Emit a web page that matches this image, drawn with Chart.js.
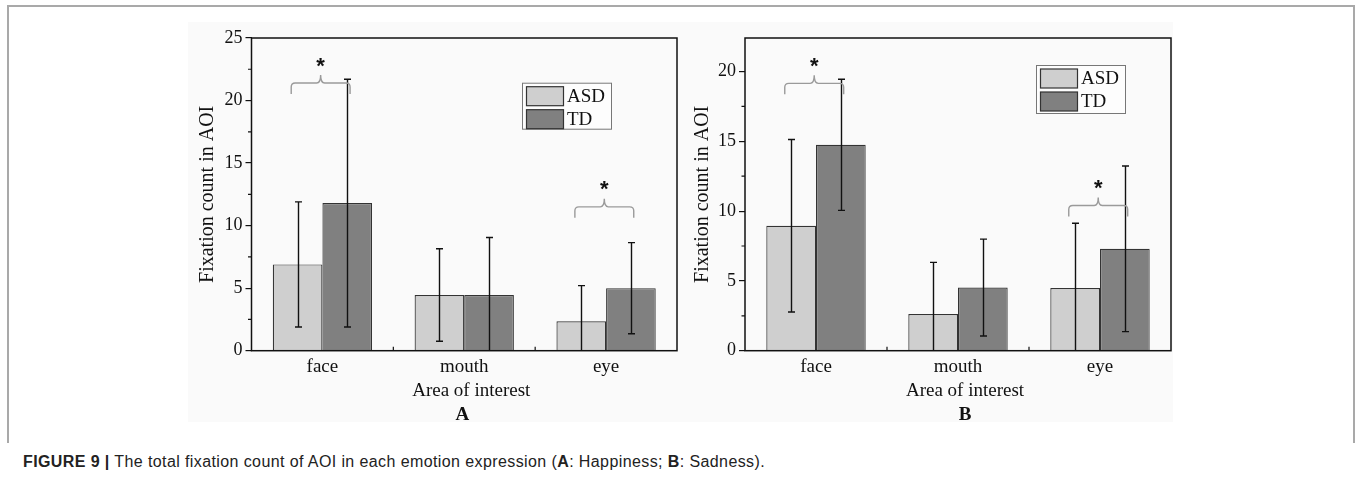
<!DOCTYPE html>
<html>
<head>
<meta charset="utf-8">
<script src="https://cdn.jsdelivr.net/npm/chart.js@4/dist/chart.umd.min.js"></script>
<style>
  html, body { margin:0; padding:0; background:#ffffff; }
  body { width:1355px; height:482px; position:relative; overflow:hidden; }
  #frame { position:absolute; left:7px; top:5px; width:1344px; height:436px;
           border-top:2px solid #a9a9a9; border-left:2px solid #a9a9a9; border-right:2px solid #a9a9a9; }
  #bg { position:absolute; left:188px; top:22px; width:985px; height:400px; background:#fafafa; }
  canvas { position:absolute; }
  #cA { left:190px; top:20px; }
  #cB { left:685px; top:20px; }
  #caption { position:absolute; left:23px; top:453px; font-family:"Liberation Sans", Arial, sans-serif;
             font-size:16px; letter-spacing:0.4px; color:#222; white-space:nowrap; }
</style>
</head>
<body>
<div id="frame"></div>
<div id="bg"></div>
<canvas id="cA" width="490" height="405"></canvas>
<canvas id="cB" width="490" height="405"></canvas>
<div id="caption"><b>FIGURE 9 |</b> The total fixation count of AOI in each emotion expression (<b>A</b>: Happiness; <b>B</b>: Sadness).</div>
<script>
// ---- data ----
const categories = ['face', 'mouth', 'eye'];
const seriesNames = ['ASD', 'TD'];

// Panel A (Happiness)
const asdA = [6.9, 4.45, 2.35];
const tdA = [11.8, 4.45, 5.0];
const asdErrA = [5.0, 3.7, 2.85];
const tdErrA = [9.9, 4.6, 3.64];
const sigLevelA = [21.4, null, 11.5];   // bracket level (y value) per category, null = none

// Panel B (Sadness)
const asdB = [8.95, 2.63, 4.49];
const tdB = [14.75, 4.52, 7.3];
const asdErrB = [6.18, 3.7, 4.64];
const tdErrB = [4.7, 3.47, 5.93];
const sigLevelB = [19.15, null, 10.4];

const yTicksA = [0, 5, 10, 15, 20, 25];
const yTicksB = [0, 5, 10, 15, 20];

const colors = ['#cfcfcf', '#808080'];

Chart.defaults.font.family = '"Liberation Serif", "Times New Roman", serif';
Chart.defaults.color = '#111';

const extras = {
  id: 'extras',
  afterDatasetsDraw(chart) {
    const o = chart.options.plugins.extras;
    const { ctx, chartArea: ca, scales: { x, y } } = chart;
    ctx.save();
    // error bars
    ctx.strokeStyle = '#111';
    ctx.lineWidth = 1.4;
    chart.data.datasets.forEach((ds, di) => {
      const meta = chart.getDatasetMeta(di);
      meta.data.forEach((bar, i) => {
        const v = ds.data[i], e = ds.err[i];
        const hi = v + e, lo = v - e;
        const xp = Math.round(bar.x) + 0.5;
        const yh = y.getPixelForValue(hi);
        const yl = y.getPixelForValue(Math.max(lo, y.min));
        ctx.beginPath();
        ctx.moveTo(xp, yh); ctx.lineTo(xp, yl);
        ctx.moveTo(xp - 3.5, yh); ctx.lineTo(xp + 3.5, yh);
        if (lo > y.min) { ctx.moveTo(xp - 3.5, yl); ctx.lineTo(xp + 3.5, yl); }
        ctx.stroke();
      });
    });
    // plot frame
    ctx.strokeStyle = '#111';
    ctx.lineWidth = 1.5;
    ctx.strokeRect(ca.left, ca.top, ca.right - ca.left, ca.bottom - ca.top);
    // minor y ticks
    ctx.lineWidth = 1.2;
    ctx.beginPath();
    for (let v = 2.5; v <= y.max; v += 5) {
      const yp = y.getPixelForValue(v);
      ctx.moveTo(ca.left - 3.5, yp); ctx.lineTo(ca.left, yp);
    }
    // category boundary ticks
    for (let i = 0; i < categories.length - 1; i++) {
      const xp = (x.getPixelForValue(i) + x.getPixelForValue(i + 1)) / 2;
      ctx.moveTo(xp, ca.bottom); ctx.lineTo(xp, ca.bottom - 4);
    }
    ctx.stroke();
    // significance brackets
    const catW = x.getPixelForValue(1) - x.getPixelForValue(0);
    o.sig.forEach((lvl, i) => {
      if (lvl == null) return;
      const c = x.getPixelForValue(i);
      const x1 = c - 0.22 * catW, x2 = c + 0.195 * catW, xm = (x1 + x2) / 2;
      const yh = y.getPixelForValue(lvl);
      const drop = 11, tip = 8, r = 4;
      ctx.strokeStyle = '#9a9a9a';
      ctx.lineWidth = 1.4;
      ctx.beginPath();
      ctx.moveTo(x1, yh + drop);
      ctx.lineTo(x1, yh + r);
      ctx.quadraticCurveTo(x1, yh, x1 + r, yh);
      ctx.lineTo(xm - r, yh);
      ctx.quadraticCurveTo(xm, yh, xm, yh - tip);
      ctx.quadraticCurveTo(xm, yh, xm + r, yh);
      ctx.lineTo(x2 - r, yh);
      ctx.quadraticCurveTo(x2, yh, x2, yh + r);
      ctx.lineTo(x2, yh + drop);
      ctx.stroke();
      ctx.fillStyle = '#111';
      ctx.font = 'bold 22px "Liberation Sans", Arial, sans-serif';
      ctx.textAlign = 'center';
      ctx.textBaseline = 'alphabetic';
      ctx.fillText('*', xm, yh - 23 + 0.57 * 22);
    });
    // legend
    const lg = o.legend;
    const lx = ca.right - lg.right - lg.w, ly = ca.top + lg.top;
    ctx.fillStyle = '#fdfdfd';
    ctx.fillRect(lx, ly, lg.w, lg.h);
    ctx.strokeStyle = '#777';
    ctx.lineWidth = 1;
    ctx.strokeRect(lx + 0.5, ly + 0.5, lg.w, lg.h);
    chart.data.datasets.forEach((ds, di) => {
      const sy = ly + 4 + di * 23;
      ctx.fillStyle = ds.backgroundColor;
      ctx.fillRect(lx + 4.5, sy, 37, 19);
      ctx.strokeStyle = '#333';
      ctx.lineWidth = 1.2;
      ctx.strokeRect(lx + 4.5, sy, 37, 19);
      ctx.fillStyle = '#111';
      ctx.font = '19px "Liberation Serif", serif';
      ctx.textAlign = 'left';
      ctx.textBaseline = 'middle';
      ctx.fillText(ds.label, lx + 45, sy + 10.5);
    });
    // x title and panel label
    const cx = (ca.left + ca.right) / 2;
    ctx.fillStyle = '#111';
    ctx.textAlign = 'center';
    ctx.textBaseline = 'middle';
    ctx.font = '19px "Liberation Serif", serif';
    ctx.fillText('Area of interest', cx + 7, ca.bottom + 40);
    ctx.font = 'bold 19px "Liberation Serif", serif';
    ctx.fillText(o.panel, cx + o.panelDx, ca.bottom + 64);
    ctx.restore();
  }
};

function makeChart(id, asd, td, asdErr, tdErr, yMax, yTicks, sig, panel, panelDx, yw, padRight, legend) {
  return new Chart(document.getElementById(id), {
    type: 'bar',
    data: {
      labels: categories,
      datasets: [
        { label: seriesNames[0], data: asd, err: asdErr, backgroundColor: colors[0],
          borderColor: '#333', borderWidth: 1.2, categoryPercentage: 0.7, barPercentage: 1.0 },
        { label: seriesNames[1], data: td, err: tdErr, backgroundColor: colors[1],
          borderColor: '#333', borderWidth: 1.2, categoryPercentage: 0.7, barPercentage: 1.0 }
      ]
    },
    options: {
      responsive: false,
      animation: false,
      devicePixelRatio: 1,
      layout: { padding: { top: 18, right: padRight, left: 0, bottom: 0 } },
      plugins: {
        legend: { display: false },
        tooltip: { enabled: false },
        extras: { sig, panel, panelDx, legend }
      },
      scales: {
        x: {
          offset: true,
          grid: { display: false, drawTicks: false },
          border: { display: false },
          ticks: { padding: 5, font: { size: 19 }, color: '#111' },
          afterFit: s => { s.height = 74.3; }
        },
        y: {
          min: 0, max: yMax,
          afterBuildTicks: s => { s.ticks = yTicks.map(v => ({ value: v })); },
          ticks: { padding: 3, font: { size: 18 }, color: '#111' },
          grid: { display: true, drawOnChartArea: false, drawTicks: true, tickLength: 6, color: '#111', lineWidth: 1.2 },
          border: { display: false },
          title: { display: true, text: 'Fixation count in AOI', font: { size: 20 }, color: '#111', padding: { top: 6, bottom: 0 } },
          afterFit: s => { s.width = yw; }
        }
      }
    },
    plugins: [extras]
  });
}

makeChart('cA', asdA, tdA, asdErrA, tdErrA, 25, yTicksA, sigLevelA, 'A', -2, 61.5, 3,
  { right: 66, top: 44.7, w: 89, h: 46 });
makeChart('cB', asdB, tdB, asdErrB, tdErrB, 22.4, yTicksB, sigLevelB, 'B', 7, 60, 4,
  { right: 46, top: 27, w: 89, h: 48 });
</script>
</body>
</html>
